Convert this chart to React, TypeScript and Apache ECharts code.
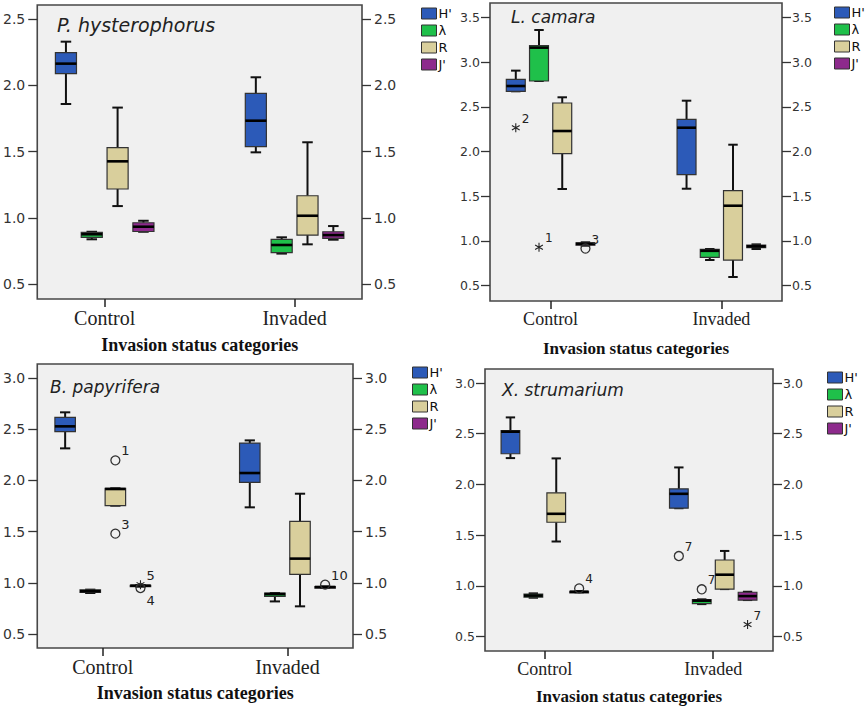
import React, { useEffect, useRef } from 'react';
import * as echarts from 'echarts';

const categories = ['Control', 'Invaded'];
const indexNames = ["H'", 'λ', 'R', "J'"];
const indexColors = ['#2c5ab8', '#1fc04a', '#d9cf9c', '#8d2a8c'];
const speciesNames = ['P. hysterophorus', 'L. camara', 'B. papyrifera', 'X. strumarium'];
const axisTitle = 'Invasion status categories';

// five-number summaries [min, Q1, median, Q3, max] for [Control, Invaded]
const hysH = [[1.86, 2.09, 2.165, 2.248, 2.331], [1.495, 1.538, 1.734, 1.941, 2.062]];
const hysL = [[0.838, 0.853, 0.876, 0.89, 0.895], [0.73, 0.738, 0.795, 0.838, 0.853]];
const hysR = [[1.089, 1.218, 1.427, 1.53, 1.833], [0.8, 0.87, 1.016, 1.167, 1.571]];
const hysJ = [[0.895, 0.897, 0.933, 0.963, 0.978], [0.835, 0.845, 0.87, 0.895, 0.938]];

const camH = [[2.673, 2.673, 2.732, 2.807, 2.904], [1.584, 1.741, 2.266, 2.36, 2.568]];
const camL = [[2.788, 2.788, 3.161, 3.183, 3.358], [0.787, 0.817, 0.89, 0.906, 0.91]];
const camR = [[1.581, 1.976, 2.229, 2.542, 2.606], [0.597, 0.787, 1.394, 1.562, 2.076]];
const camJ = [[0.947, 0.952, 0.968, 0.978, 0.985], [0.91, 0.925, 0.94, 0.955, 0.962]];

const papH = [[2.313, 2.476, 2.528, 2.616, 2.665], [1.737, 1.981, 2.072, 2.365, 2.391]];
const papL = [[0.9, 0.905, 0.918, 0.93, 0.933], [0.818, 0.867, 0.89, 0.9, 0.9]];
const papR = [[1.753, 1.753, 1.916, 1.923, 1.923], [0.77, 1.083, 1.236, 1.6, 1.87]];
const papJ = [[0.962, 0.966, 0.972, 0.976, 0.978], [0.952, 0.955, 0.959, 0.963, 0.965]];

const strH = [[2.26, 2.303, 2.52, 2.53, 2.661], [1.766, 1.766, 1.908, 1.957, 2.168]];
const strL = [[0.884, 0.89, 0.905, 0.92, 0.927], [0.821, 0.825, 0.855, 0.866, 0.868]];
const strR = [[1.438, 1.628, 1.711, 1.918, 2.257], [0.969, 0.969, 1.111, 1.256, 1.345]];
const strJ = [[0.937, 0.94, 0.943, 0.947, 0.95], [0.861, 0.861, 0.9, 0.938, 0.943]];

// outliers: [category index, index (H', λ, R, J'), value, case label, marker]
const hysOutliers: any[] = [];
const camOutliers = [
  [0, 0, 2.266, '2', 'star'],
  [0, 1, 0.929, '1', 'star'],
  [0, 3, 0.915, '3', 'circle'],
];
const papOutliers = [
  [0, 2, 2.196, '1', 'circle'],
  [0, 2, 1.48, '3', 'circle'],
  [0, 3, 0.982, '5', 'star'],
  [0, 3, 0.949, '4', 'circle'],
  [1, 3, 0.982, '10', 'circle'],
];
const strOutliers = [
  [0, 3, 0.976, '4', 'circle'],
  [1, 0, 1.295, '7', 'circle'],
  [1, 1, 0.967, '7', 'circle'],
  [1, 3, 0.62, '7', 'star'],
];

const yTicks1 = [0.5, 1.0, 1.5, 2.0, 2.5];
const yTicks2 = [0.5, 1.0, 1.5, 2.0, 2.5, 3.0, 3.5];
const yTicks3 = [0.5, 1.0, 1.5, 2.0, 2.5, 3.0];
const yTicks4 = [0.5, 1.0, 1.5, 2.0, 2.5, 3.0];

const panelBoxes = [
  [hysH, hysL, hysR, hysJ],
  [camH, camL, camR, camJ],
  [papH, papL, papR, papJ],
  [strH, strL, strR, strJ],
];
const panelOutliers = [hysOutliers, camOutliers, papOutliers, strOutliers];
const panelTicks = [yTicks1, yTicks2, yTicks3, yTicks4];

// layout (pixels) for each panel
const panelLayout = [
  { grid: { left: 34, top: 5, width: 328, height: 294 }, yMin: 0.387, yMax: 2.608, legend: { left: 421, top: 7 }, title: { left: 57, top: 15 }, font: { tick: 14, cat: 20, name: 18, title: 19, note: 13 }, nameGap: 37, labelMargin: 12, below: [] as string[] },
  { grid: { left: 490, top: 3, width: 292, height: 298 }, yMin: 0.329, yMax: 3.66, legend: { left: 834, top: 6 }, title: { left: 511, top: 8 }, font: { tick: 12.5, cat: 18, name: 17, title: 17, note: 12 }, nameGap: 39, labelMargin: 10, below: [] as string[] },
  { grid: { left: 35, top: 364, width: 318, height: 284 }, yMin: 0.363, yMax: 3.137, legend: { left: 412, top: 366 }, title: { left: 50, top: 378 }, font: { tick: 14, cat: 20, name: 18, title: 17, note: 13 }, nameGap: 36, labelMargin: 12, below: ['4'] },
  { grid: { left: 485, top: 369, width: 288, height: 282 }, yMin: 0.359, yMax: 3.138, legend: { left: 827, top: 371 }, title: { left: 502, top: 381 }, font: { tick: 12.5, cat: 18, name: 17, title: 17, note: 12 }, nameGap: 37, labelMargin: 10, below: [] as string[] },
];

const X_MIN = -0.355;
const X_MAX = 1.355;
const SLOT = 0.136;
const BOXW = 0.111;
const ASTERISK =
  'M4.4 0 L5.6 0 L5.6 10 L4.4 10 Z M0.97 1.98 L9.63 6.98 L9.03 8.02 L0.37 3.02 Z M9.03 1.98 L9.63 3.02 L0.97 8.02 L0.37 6.98 Z';

function renderBox(k: number) {
  return (params: any, api: any) => {
    const cat = api.value(0);
    const unit = api.size([1, 0])[0];
    const cx = api.coord([cat, api.value(3)])[0] + (k - 1.5) * SLOT * unit;
    const ys = [1, 2, 3, 4, 5].map((i) => api.coord([cat, api.value(i)])[1]);
    const hw = (BOXW * unit) / 2;
    const cap = hw * 0.5;
    const fill = api.visual('color');
    const ls = { stroke: '#111', lineWidth: 2 };
    return {
      type: 'group',
      children: [
        { type: 'line', shape: { x1: cx, y1: ys[4], x2: cx, y2: ys[3] }, style: ls },
        { type: 'line', shape: { x1: cx, y1: ys[1], x2: cx, y2: ys[0] }, style: ls },
        { type: 'line', shape: { x1: cx - cap, y1: ys[4], x2: cx + cap, y2: ys[4] }, style: ls },
        { type: 'line', shape: { x1: cx - cap, y1: ys[0], x2: cx + cap, y2: ys[0] }, style: ls },
        {
          type: 'rect',
          shape: { x: cx - hw, y: ys[3], width: 2 * hw, height: Math.max(ys[1] - ys[3], 1.5) },
          style: { fill, stroke: '#333', lineWidth: 1.2 },
        },
        { type: 'line', shape: { x1: cx - hw, y1: ys[2], x2: cx + hw, y2: ys[2] }, style: { stroke: '#000', lineWidth: 2.6 } },
      ],
    };
  };
}

function renderOutliers(list: any[], noteSize: number, below: string[]) {
  return (params: any, api: any) => {
    const o = list[params.dataIndex];
    const cat = o[0];
    const k = o[1];
    const unit = api.size([1, 0])[0];
    const pt = api.coord([cat, o[2]]);
    const cx = pt[0] + (k - 1.5) * SLOT * unit;
    const cy = pt[1];
    const marker =
      o[4] === 'star'
        ? { type: 'path', shape: { pathData: ASTERISK, x: cx - 4.5, y: cy - 4.5, width: 9, height: 9 }, style: { fill: '#222' } }
        : { type: 'circle', shape: { cx, cy, r: 4.5 }, style: { fill: 'none', stroke: '#333', lineWidth: 1.3 } };
    const isBelow = below.indexOf(o[3]) >= 0;
    const text = {
      type: 'text',
      x: cx + 6,
      y: isBelow ? cy + 6 : cy - 3,
      style: {
        text: o[3],
        fill: '#222',
        font: `${noteSize}px "DejaVu Sans"`,
        textAlign: 'left',
        textVerticalAlign: isBelow ? 'top' : 'bottom',
      },
    };
    return { type: 'group', children: [marker, text] };
  };
}

export default function App() {
  const ref = useRef<HTMLDivElement>(null);
  useEffect(() => {
    if (!ref.current) return;
    const chart = echarts.init(ref.current, undefined, { renderer: 'svg' });
    const grid: any[] = [];
    const xAxis: any[] = [];
    const yAxis: any[] = [];
    const series: any[] = [];
    const legend: any[] = [];
    const title: any[] = [];

    panelLayout.forEach((L, p) => {
      grid.push({
        ...L.grid,
        show: true,
        backgroundColor: '#f0f0f0',
        borderColor: '#474747',
        borderWidth: 1.6,
        containLabel: false,
      });
      xAxis.push({
        type: 'value',
        gridIndex: p,
        min: X_MIN,
        max: X_MAX,
        axisLine: { show: false, onZero: false },
        splitLine: { show: false },
        axisTick: { show: true, customValues: [0, 1], length: 8, inside: false, lineStyle: { color: '#222', width: 1.5 } },
        axisLabel: {
          customValues: [0, 1],
          formatter: (v: number) => categories[Math.round(v)] ?? '',
          fontFamily: 'Liberation Serif',
          fontSize: L.font.cat,
          color: '#222',
          margin: 9,
        },
        name: axisTitle,
        nameLocation: 'middle',
        nameGap: L.nameGap,
        nameTextStyle: { fontFamily: 'Liberation Serif', fontWeight: 'bold', fontSize: L.font.name, color: '#111' },
      });
      ['left', 'right'].forEach((pos) => {
        yAxis.push({
          type: 'value',
          gridIndex: p,
          position: pos,
          min: L.yMin,
          max: L.yMax,
          axisLine: { show: false, onZero: false },
          splitLine: { show: false },
          axisTick: { show: true, customValues: panelTicks[p], length: 9, lineStyle: { color: '#333', width: 1.3 } },
          axisLabel: {
            customValues: panelTicks[p],
            formatter: (v: number) => v.toFixed(1),
            fontFamily: 'DejaVu Sans',
            fontSize: L.font.tick,
            color: '#333',
            margin: L.labelMargin,
          },
        });
      });
      panelBoxes[p].forEach((boxes, k) => {
        series.push({
          type: 'custom',
          name: indexNames[k],
          xAxisIndex: p,
          yAxisIndex: 2 * p,
          itemStyle: { color: indexColors[k] },
          renderItem: renderBox(k),
          encode: { x: 0, y: [1, 2, 3, 4, 5] },
          data: boxes.map((b, i) => [i, ...b]),
          z: 2,
        });
      });
      if (panelOutliers[p].length) {
        series.push({
          type: 'custom',
          name: 'outliers' + p,
          xAxisIndex: p,
          yAxisIndex: 2 * p,
          renderItem: renderOutliers(panelOutliers[p], L.font.note, L.below),
          encode: { x: 0, y: 2 },
          data: panelOutliers[p].map((o: any[]) => [o[0], o[1], o[2]]),
          z: 3,
        });
      }
      legend.push({
        orient: 'vertical',
        left: L.legend.left,
        top: L.legend.top,
        padding: 0,
        icon: 'rect',
        itemWidth: 15,
        itemHeight: 11,
        itemGap: 4,
        selectedMode: false,
        data: indexNames,
        itemStyle: { borderColor: '#333', borderWidth: 1 },
        textStyle: { fontFamily: 'DejaVu Sans', fontSize: 13, lineHeight: 12, color: '#111', padding: [0, 0, 0, -3] },
      });
      title.push({
        text: speciesNames[p],
        left: L.title.left,
        top: L.title.top,
        padding: 0,
        textStyle: { fontFamily: 'DejaVu Sans', fontStyle: 'italic', fontWeight: 'normal', fontSize: L.font.title, color: '#222' },
      });
    });

    chart.setOption({
      animation: false,
      backgroundColor: '#ffffff',
      title,
      legend,
      grid,
      xAxis,
      yAxis,
      series,
    });
    return () => chart.dispose();
  }, []);
  return <div ref={ref} style={{ position: 'absolute', left: 0, top: 0, width: 865, height: 706 }} />;
}
